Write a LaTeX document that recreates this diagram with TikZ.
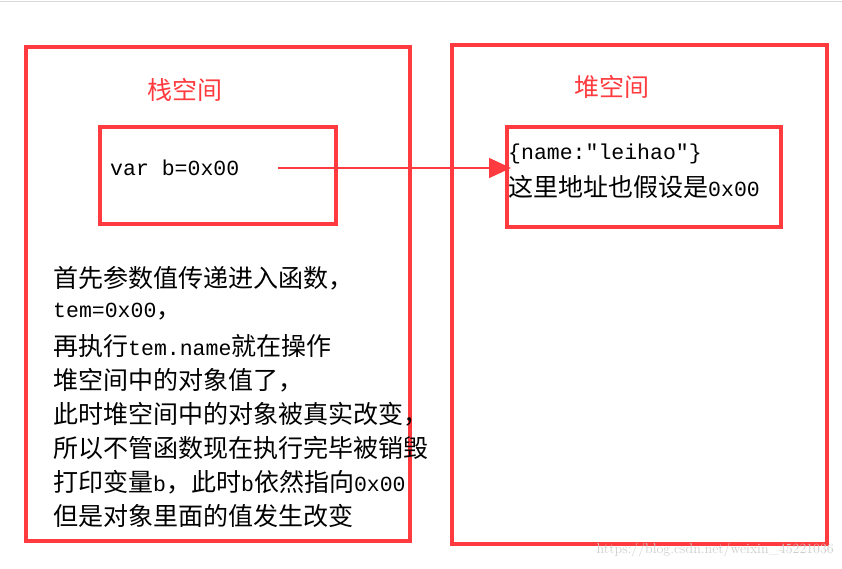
\documentclass[tikz,border=0pt]{standalone}
\usepackage{fontspec}
\newfontfamily\cjk{Noto Sans CJK SC}
\setmonofont{Liberation Mono}
\newcommand\mn[1]{{\ttfamily\fontsize{21.5}{21.5}\selectfont #1}}
\usetikzlibrary{arrows.meta}
\definecolor{rd}{HTML}{FF3B3F}
\begin{document}
\begin{tikzpicture}[x=1pt,y=-1pt,
  box/.style={draw=rd,line width=4.5pt},
  ttl/.style={text=rd,font=\cjk\fontsize{25}{25}\selectfont,inner sep=0},
  txt/.style={anchor=west,font=\cjk\fontsize{25}{25}\selectfont,inner sep=0}]
\useasboundingbox (0,0) rectangle (842,568);
\draw[gray!30] (0,1) -- (842,1);
\draw[box] (26,47) rectangle (410,541);
\draw[box] (452,45) rectangle (827,544);
\draw[box] (100,127) rectangle (336,224);
\draw[box] (507,127) rectangle (781,227);
\node[ttl] (t1) at (185,90) {栈空间};
\node[ttl] (t2) at (612,87) {堆空间};
\node[txt] (v) at (110,168) {\mn{var b=0x00}};
\node[txt] (h1) at (508,154) {\mn{\{name:"leihao"\}}};
\node[txt] (h2) at (508,187) {这里地址也假设是\mn{0x00}};
\coordinate (a0) at (278,168);
\coordinate (a1) at (511,168);
\draw[rd,line width=1.5pt,-{Triangle[length=22pt,width=20pt]}] (a0) -- (a1);
\foreach \t [count=\i from 0] in {首先参数值传递进入函数，,\mn{tem=0x00}，,再执行\mn{tem.name}就在操作,堆空间中的对象值了，,此时堆空间中的对象被真实改变，,所以不管函数现在执行完毕被销毁,打印变量\mn{b}，此时\mn{b}依然指向\mn{0x00},但是对象里面的值发生改变}
  \node[txt] (l\i) at (53,278+34*\i) {\t};
\node[anchor=east,text=gray!40,font=\fontsize{14}{14}\selectfont,inner sep=0] (wm) at (834,550) {https://blog.csdn.net/weixin\_45221036};
\end{tikzpicture}
\end{document}
